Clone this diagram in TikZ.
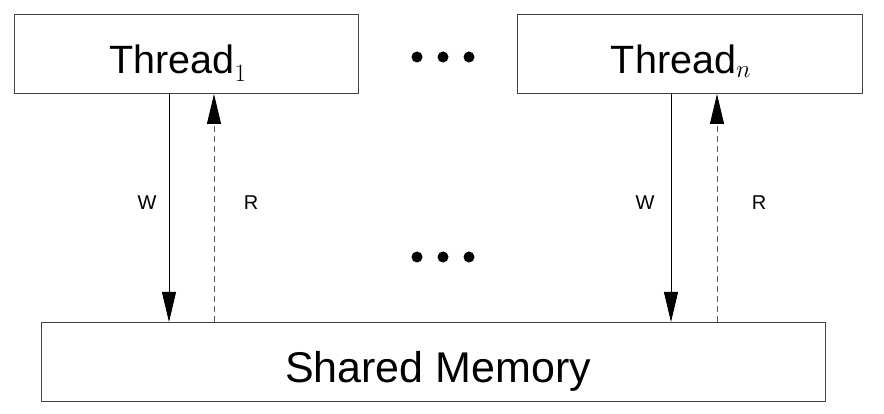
\documentclass[tikz,border=0pt]{standalone}
\usepackage{fontspec}
\setmainfont{Liberation Sans}
\usetikzlibrary{arrows.meta}
\begin{document}
\begin{tikzpicture}[x=1pt,y=-1pt,
  box/.style={draw=black!75,line width=1pt,inner sep=0pt},
  big/.style={font=\fontsize{39.5}{42}\selectfont,anchor=base,inner sep=0pt},
  huge/.style={font=\fontsize{43}{45}\selectfont,anchor=base,inner sep=0pt},
  lab/.style={font=\fontsize{20}{22}\selectfont},
  arr/.style={line width=0.9pt,-{Triangle[length=30pt,width=14pt,color=black]}},
  rd/.style={arr,dash pattern=on 6pt off 4pt,draw=black!65},
  dot/.style={circle,fill=black,inner sep=0pt,minimum size=11pt}]
\useasboundingbox (0,0) rectangle (884,414);
\node[box,minimum width=344pt,minimum height=79pt] (t1) at (186,54.5) {};
\node[box,minimum width=345pt,minimum height=79pt] (tn) at (689.5,54.5) {};
\node[box,minimum width=784pt,minimum height=79pt] (sm) at (433,361.5) {};
\node[big] (t1l) at (178,74) {Thread$_1$};
\node[big] (tnl) at (681,74) {Thread$_n$};
\node[huge] (sml) at (438,382) {Shared Memory};
\foreach \i/\x in {1/417,2/443,3/469}{
  \node[dot] (a\i) at (\x,57) {};
  \node[dot] (b\i) at (\x,257) {};
}
\coordinate (w1t) at (169,94); \coordinate (w1b) at (169,322);
\coordinate (r1t) at (214,94); \coordinate (r1b) at (214,322);
\coordinate (wnt) at (671,94); \coordinate (wnb) at (671,322);
\coordinate (rnt) at (717,94); \coordinate (rnb) at (717,322);
\draw[arr] (w1t) -- (w1b);
\draw[rd] (r1b) -- (r1t);
\draw[arr] (wnt) -- (wnb);
\draw[rd] (rnb) -- (rnt);
\node[lab] (lw1) at (147,203) {W};
\node[lab] (lr1) at (251,203) {R};
\node[lab] (lwn) at (645,203) {W};
\node[lab] (lrn) at (759,203) {R};
\end{tikzpicture}
\end{document}
